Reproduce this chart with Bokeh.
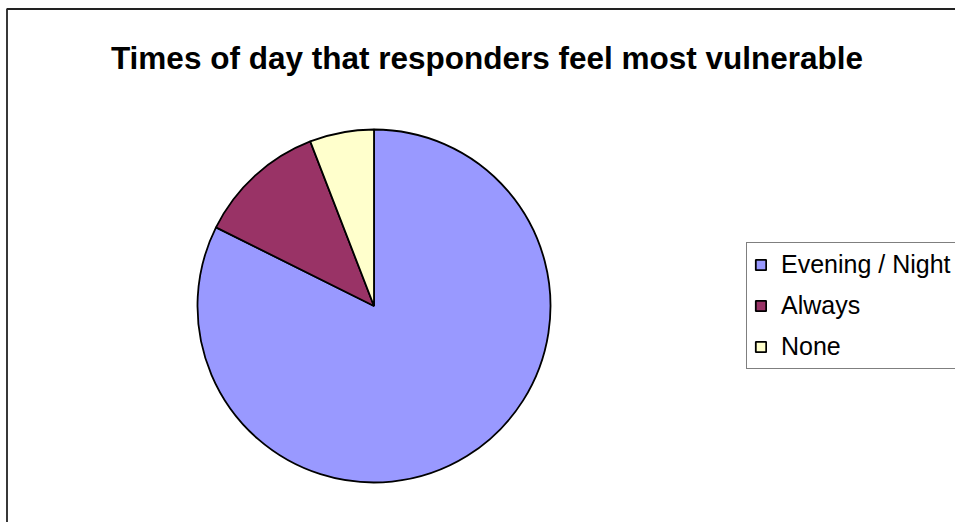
import math
from bokeh.plotting import figure
from bokeh.models import ColumnDataSource, Label, Legend, LegendItem, BoxAnnotation, Range1d
from bokeh.embed import file_html
from bokeh.resources import INLINE

title_text = "Times of day that responders feel most vulnerable"
categories = ["Evening / Night", "Always", "None"]
values = [14, 2, 1]
colors = ["#9999FF", "#993366", "#FFFFCC"]

W, H = 955, 522
total = sum(values)
starts, ends = [], []
acc = 0.0
for v in values:
    starts.append(math.pi / 2 - acc / total * 2 * math.pi)
    acc += v
    ends.append(math.pi / 2 - acc / total * 2 * math.pi)

src = ColumnDataSource(dict(label=categories, value=values, color=colors,
                            start=starts, end=ends))

p = figure(width=W, height=H, output_backend="svg", toolbar_location=None,
           x_range=Range1d(0, W), y_range=Range1d(0, H), min_border=0)
p.axis.visible = False
p.grid.visible = False
p.outline_line_color = None
p.background_fill_color = "white"
p.border_fill_color = "white"

# chart-area frame (top and left edges visible, right/bottom run off the page)
p.add_layout(BoxAnnotation(left=6.5, right=W + 20, top=513.5, bottom=-20,
                           fill_alpha=0, line_color="#222222", line_alpha=1,
                           line_width=1.8))

r = p.wedge(x=373.5, y=216.5, radius=176.5, start_angle="start", end_angle="end",
            direction="clock", fill_color="color", line_color="black",
            line_width=1.8, source=src)

legend = Legend(items=[LegendItem(label=categories[i], renderers=[r], index=i)
                       for i in range(len(categories))],
                location=(746, 153))
legend.label_text_font = "Liberation Sans"
legend.label_text_font_size = "25px"
legend.label_text_color = "black"
legend.glyph_width = 13
legend.glyph_height = 13
legend.label_height = 29
legend.label_standoff = 14
legend.spacing = 12
legend.padding = 7
legend.margin = 0
legend.border_line_color = "black"
legend.border_line_width = 1
legend.background_fill_color = "white"
legend.background_fill_alpha = 1
p.add_layout(legend, "center")

p.add_layout(Label(x=486.5, y=465, text=title_text, text_align="center",
                   text_baseline="alphabetic", text_font="Liberation Sans",
                   text_font_style="bold", text_font_size="31.5px", text_color="black"))

open("out.html", "w").write(file_html(p, INLINE))
